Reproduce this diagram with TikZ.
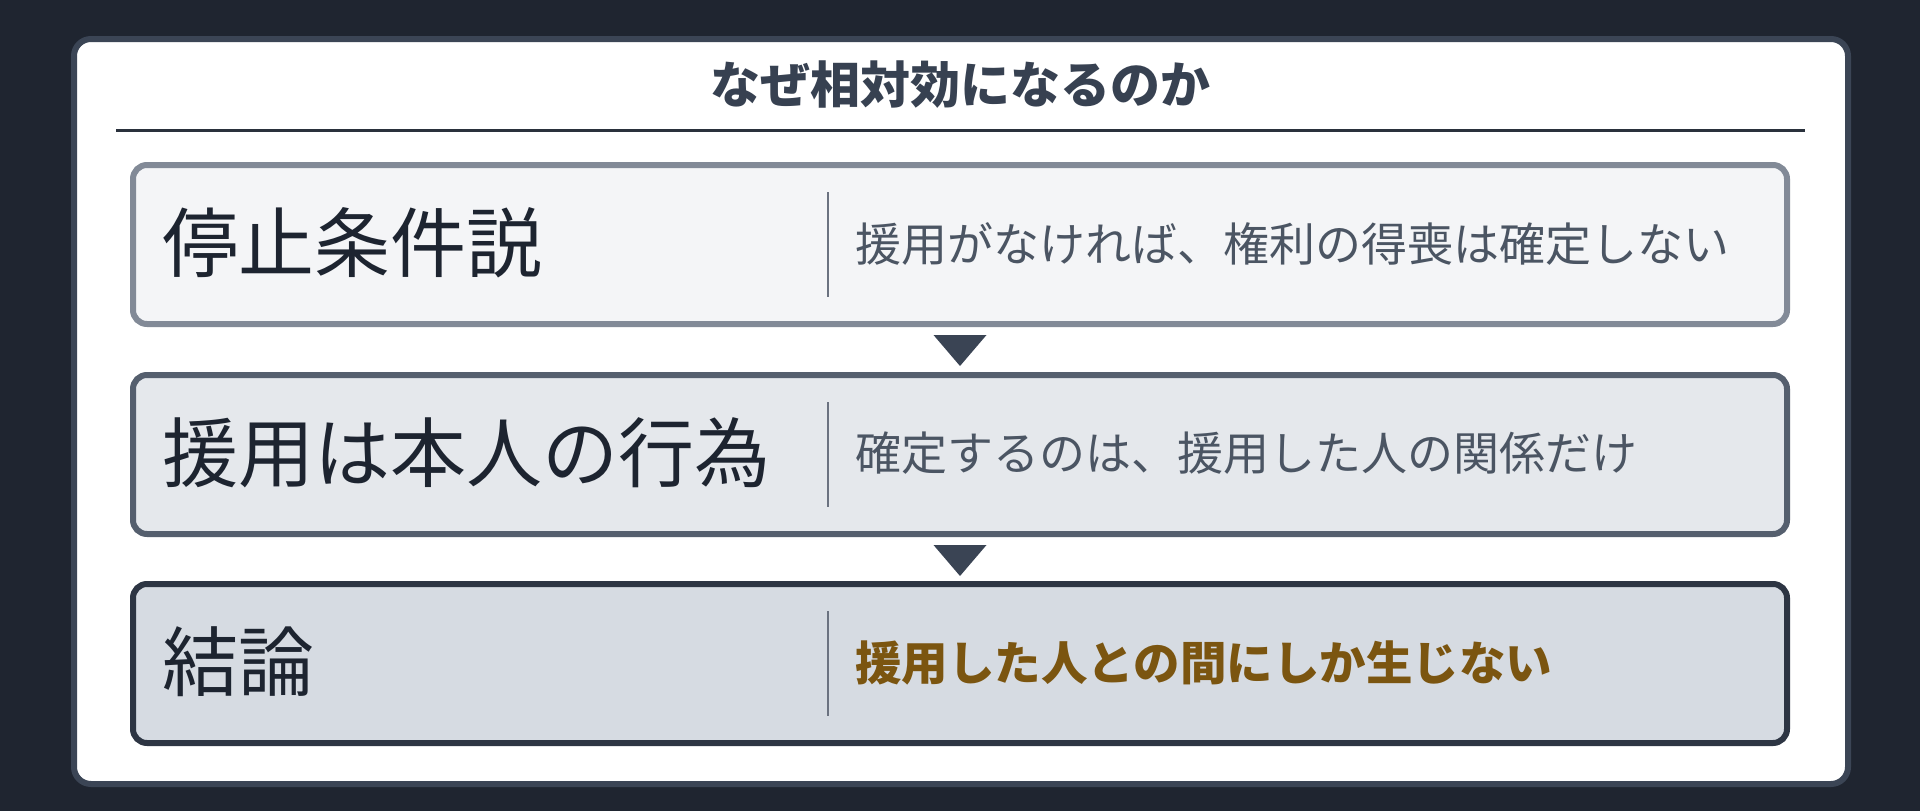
\documentclass[tikz,border=0pt]{standalone}
\usepackage{fontspec}
\setmainfont{Noto Sans CJK JP}
\usetikzlibrary{calc}
\definecolor{bgc}{HTML}{1F2530}
\definecolor{panelline}{HTML}{3B4555}
\definecolor{titlec}{HTML}{374151}
\definecolor{rulec}{HTML}{2A313C}
\definecolor{fillA}{HTML}{F4F5F7}
\definecolor{lineA}{HTML}{828A97}
\definecolor{fillB}{HTML}{E5E8EC}
\definecolor{lineB}{HTML}{555F6E}
\definecolor{fillC}{HTML}{D6DBE2}
\definecolor{lineC}{HTML}{2D3543}
\definecolor{tric}{HTML}{3A4454}
\definecolor{headc}{HTML}{1D2430}
\definecolor{bodyc}{HTML}{4B5563}
\definecolor{divc}{HTML}{6B7280}
\definecolor{brownc}{HTML}{7B5510}
\tikzset{
  panel/.style={draw=panelline, fill=white, line width=6pt, rounded corners=17pt,
    minimum width=1774pt, minimum height=745pt, inner sep=0pt, outer sep=0pt},
  stepbox/.style={line width=6pt, rounded corners=14pt, minimum width=1654pt,
    minimum height=159pt, inner sep=0pt, outer sep=0pt},
  boxA/.style={stepbox, draw=lineA, fill=fillA},
  boxB/.style={stepbox, draw=lineB, fill=fillB},
  boxC/.style={stepbox, draw=lineC, fill=fillC},
  headtxt/.style={anchor=west, inner sep=0pt, text=headc, font=\fontsize{76}{80}\selectfont},
  bodytxt/.style={anchor=west, inner sep=0pt, text=bodyc, font=\fontsize{46}{50}\selectfont},
  keytxt/.style={anchor=west, inner sep=0pt, text=brownc, font=\bfseries\fontsize{46.5}{50}\selectfont},
  titletxt/.style={inner sep=0pt, text=titlec, font=\bfseries\fontsize{50}{54}\selectfont},
  divider/.style={draw=divc, line width=2.5pt},
  tri/.style={fill=tric},
}
\begin{document}
\begin{tikzpicture}[x=1pt, y=-1pt]
\useasboundingbox (0,0) rectangle (1920,811);
\fill[bgc] (0,0) rectangle (1920,811);
\node[panel] (panel) at (961,411.5) {};
\node[titletxt] (title) at (960,85) {なぜ相対効になるのか};
\coordinate (ruleL) at (116,130.5);
\coordinate (ruleR) at (1805,130.5);
\draw[rulec, line width=3pt] (ruleL) -- (ruleR);

\node[boxA] (b1) at (960,244.5) {};
\node[boxB] (b2) at (960,454.5) {};
\node[boxC] (b3) at (960,663.5) {};

\foreach \b in {b1,b2,b3}{
  \coordinate (\b top) at ($(\b.center)+(-132,-52.5)$);
  \coordinate (\b bot) at ($(\b.center)+(-132,52.5)$);
  \draw[divider] (\b top) -- (\b bot);
}

\node[headtxt] (h1) at ($(b1.west)+(29,-2)$) {停止条件説};
\node[headtxt] (h2) at ($(b2.west)+(29,-2)$) {援用は本人の行為};
\node[headtxt] (h3) at ($(b3.west)+(29,-2)$) {結論};

\node[bodytxt] (t1) at ($(b1.center)+(-105,-1)$) {援用がなければ、権利の得喪は確定しない};
\node[bodytxt] (t2) at ($(b2.center)+(-105,-1)$) {確定するのは、援用した人の関係だけ};
\node[keytxt] (t3) at ($(b3.center)+(-105,-1)$) {援用した人との間にしか生じない};

\fill[tri] ($(b1.south)+(-26.5,11)$) -- ($(b1.south)+(26.5,11)$) -- ($(b1.south)+(0,42)$) -- cycle;
\fill[tri] ($(b2.south)+(-26.5,11)$) -- ($(b2.south)+(26.5,11)$) -- ($(b2.south)+(0,42)$) -- cycle;
\end{tikzpicture}
\end{document}
